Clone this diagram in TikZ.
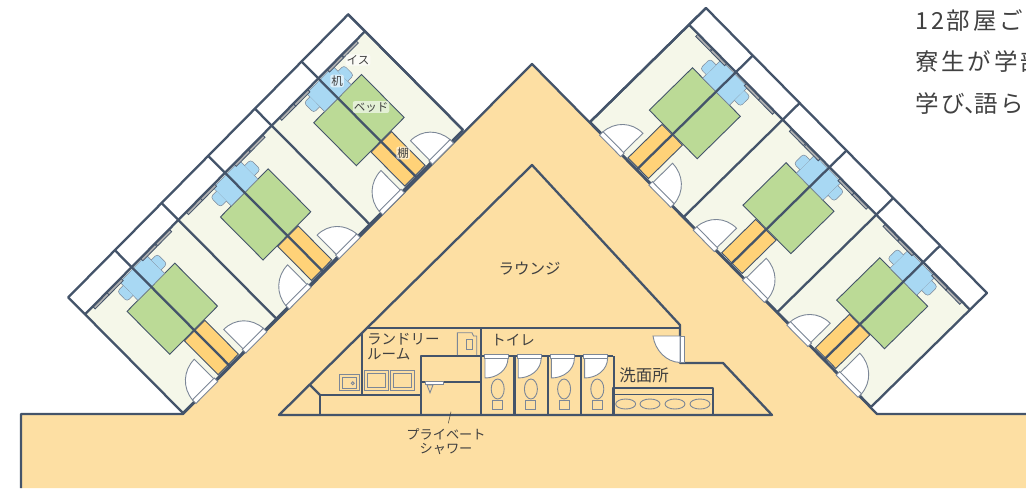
\documentclass[tikz,border=0pt]{standalone}
\usepackage{fontspec}
\setmainfont{Noto Sans CJK JP}
\newfontfamily\introfont[LetterSpace=12]{Noto Sans CJK JP}
\definecolor{wallcol}{HTML}{44546A}
\definecolor{corridor}{HTML}{FDDFA3}
\definecolor{roomcol}{HTML}{F5F7E9}
\definecolor{bedcol}{HTML}{BBDA96}
\definecolor{deskcol}{HTML}{A8D8F3}
\definecolor{shelfcol}{HTML}{FFD278}
\definecolor{inkcol}{HTML}{404040}
\tikzset{
  wall/.style={draw=wallcol,line width=2.3pt,line join=round},
  thinwall/.style={draw=wallcol,line width=0.9pt},
  fixture/.style={draw=wallcol!70,line width=0.9pt},
  leaf/.style={draw=wallcol!70,line width=0.9pt,fill=white},
  pane/.style={draw=wallcol,line width=0.8pt,fill=gray!60},
  label/.style={text=inkcol,font=\fontsize{14.5}{16}\selectfont,inner sep=0pt},
  biglabel/.style={text=inkcol,font=\fontsize{15.5}{17}\selectfont,inner sep=0pt},
  smalllabel/.style={text=inkcol,font=\fontsize{13.2}{15}\selectfont,inner sep=0pt},
  halo/.style={text=inkcol,font=\fontsize{11.5}{13}\selectfont,inner sep=1pt,fill=white,fill opacity=0.6,text opacity=1,rounded corners=2pt},
  intro/.style={text=inkcol,font=\introfont\fontsize{23.5}{25}\selectfont,inner sep=0pt,anchor=west}
}
% one wing: origin on the corridor wall, first axis along the wall, second axis outwards
\newcommand{\roomwing}[5]{%
  \begin{scope}[cm={#2,#3,#4,#5,(#1)},x=1pt,y=1pt]
    \fill[roomcol] (0,0) rectangle (399,140);
    \fill[white] (0,140) rectangle (399,164);
    \draw[wall] (0,0) -- (399,0);
    \foreach \a in {0,133,266} {
      \begin{scope}[shift={(\a,0)}]
        % shelves, bed, desk and chairs
        \draw[thinwall,fill=shelfcol] (52,2) rectangle (81,50);
        \draw[thinwall,fill=bedcol] (32,51) rectangle (100,112);
        \draw[fixture,line width=0.5pt,fill=deskcol] (47.5,112) rectangle (85.5,138);
        \draw[fixture,line width=0.5pt,fill=deskcol,rounded corners=3pt] (85.5,117) -- (94,117) -- (94,131) -- (85.5,131);
        \draw[fixture,line width=0.5pt,fill=deskcol,rounded corners=3pt] (47.5,119) -- (39,119) -- (39,133) -- (47.5,133);
        % windows
        \foreach \w in {11,31,79,100} {
          \draw[pane] (\w,136.5) rectangle ++(20,3.5);
        }
        % doors
        \draw[leaf] (46,2) -- (46,30) .. controls (30,30) and (17,18) .. (16,2) -- cycle;
        \draw[leaf] (88,2) -- (88,30) .. controls (104,30) and (116,18) .. (117,2) -- cycle;
        \draw[leaf] (16,-2.5) rectangle (47,2.5);
        \draw[leaf] (87,-2.5) rectangle (117,2.5);
        % walls between the rooms
        \draw[wall] (66.5,0) -- (66.5,164);
        \draw[wall] (133,0) -- (133,164);
      \end{scope}
    }
    \draw[wall] (0,0) -- (0,164) -- (399,164) -- (399,0);
    \draw[wall] (0,140) -- (399,140);
  \end{scope}
}
\begin{document}
\begin{tikzpicture}[x=1pt,y=-1pt]
  \useasboundingbox (0,0) rectangle (1026,488);

  % corridor and lounge floor
  \fill[corridor] (21,488) -- (21,414) -- (183,414) -- (532,64) -- (877,414) -- (1026,414) -- (1026,488) -- cycle;
  \draw[wall] (21,488) -- (21,414) -- (183,414) -- (532,64) -- (877,414) -- (1026,414);

  \roomwing{183,413}{0.7018}{0.7093}{-0.70}{0.705}
  \roomwing{871,407}{-0.7042}{0.7143}{0.7071}{0.695}

  % lounge block outline
  \draw[wall] (279,415) -- (532,165) -- (680,325) -- (680,363) -- (723,363) -- (772,415) -- cycle;
  \draw[wall] (366,328) -- (680,328);
  \draw[wall] (362,334) -- (362,395);
  \draw[wall] (320,415) -- (320,395) -- (421,395);
  \draw[wall] (310,385) -- (320,395);
  \draw[wall] (481,328) -- (481,415);
  \draw[wall] (421,415) -- (421,356) -- (613,356);
  \draw[wall] (421,382) -- (481,382);

  % toilets
  \foreach \x in {0,1,2,3} {
    \begin{scope}[shift={(\x*33.2,0)}]
      \draw[wall] (514.5,356) -- (514.5,415);
      \draw[leaf] (485,358) -- (508,358) .. controls (508,370) and (497,378) .. (485,378) -- cycle;
      \draw[leaf] (484,354.5) rectangle (508,358);
      \draw[fixture] (497.7,389) ellipse (6.5 and 10);
      \draw[fixture] (492.7,400) rectangle (502.7,409);
    \end{scope}
  }
  \draw[wall] (481,356) -- (481,415);

  % wash room
  \draw[wall] (613,415) -- (613,388) -- (713,388) -- (713,415);
  \draw[thinwall] (613,394.5) -- (713,394.5);
  \foreach \x in {625.7,650,675,700} {
    \draw[fixture] (\x,404) ellipse (10 and 5);
  }

  % lounge door
  \draw[leaf] (680,336) -- (653,336) .. controls (655,350) and (666,362) .. (680,362.5) -- cycle;
  \draw[leaf] (680,336) rectangle (684,362.5);

  % laundry room
  \foreach \x in {364,390} {
    \draw[fixture] (\x,370) rectangle ++(24.5,20.5);
    \draw[fixture] (\x+3.3,373.3) rectangle ++(18,14);
  }
  \draw[fixture] (339,374) rectangle (359,390.7);
  \draw[fixture] (342.7,377.3) rectangle (356.7,388.3);
  \draw[fixture] (352.7,383.3) circle (1.5);
  \draw[fixture] (457.3,355) -- (457.3,332.7) -- (472,332.7) -- (473.5,336) -- (476.7,336) -- (476.7,355);
  \draw[fixture] (466.7,339.3) rectangle (472.7,349.3);

  % shower
  \draw[leaf] (425,381) rectangle (443,384);
  \draw[fixture] (427,385) -- (433,385) -- (430,392.7) -- cycle;

  % labels
  \node[biglabel] (lounge) at (529.5,269) {ラウンジ};
  \node[label,anchor=west] (laundry) at (367,339.5) {ランドリー};
  \node[label,anchor=west] (laundrytwo) at (367,354.5) {ルーム};
  \node[label] (toilet) at (513,340.5) {トイレ};
  \node[biglabel,font=\fontsize{16.5}{18}\selectfont] (washroom) at (644,375) {洗面所};
  \node[smalllabel] (shower) at (446,434) {プライベート};
  \node[smalllabel] (showertwo) at (446,449) {シャワー};
  \coordinate (leadtop) at (451,411.7);
  \coordinate (leadend) at (448.3,423.3);
  \draw[draw=inkcol,line width=0.5pt] (leadtop) -- (leadend);

  \node[halo] (chair) at (358,60) {イス};
  \node[halo] (desk) at (337,81) {机};
  \node[halo] (bed) at (371,107) {ベッド};
  \node[halo] (shelf) at (403,153) {棚};

  \node[intro] (introa) at (915,20.5) {12部屋ご};
  \node[intro] (introb) at (915,61.5) {寮生が学部};
  \node[intro] (introc) at (915,104) {学び\kern-1pt、\kern-13pt 語ら};
\end{tikzpicture}
\end{document}
